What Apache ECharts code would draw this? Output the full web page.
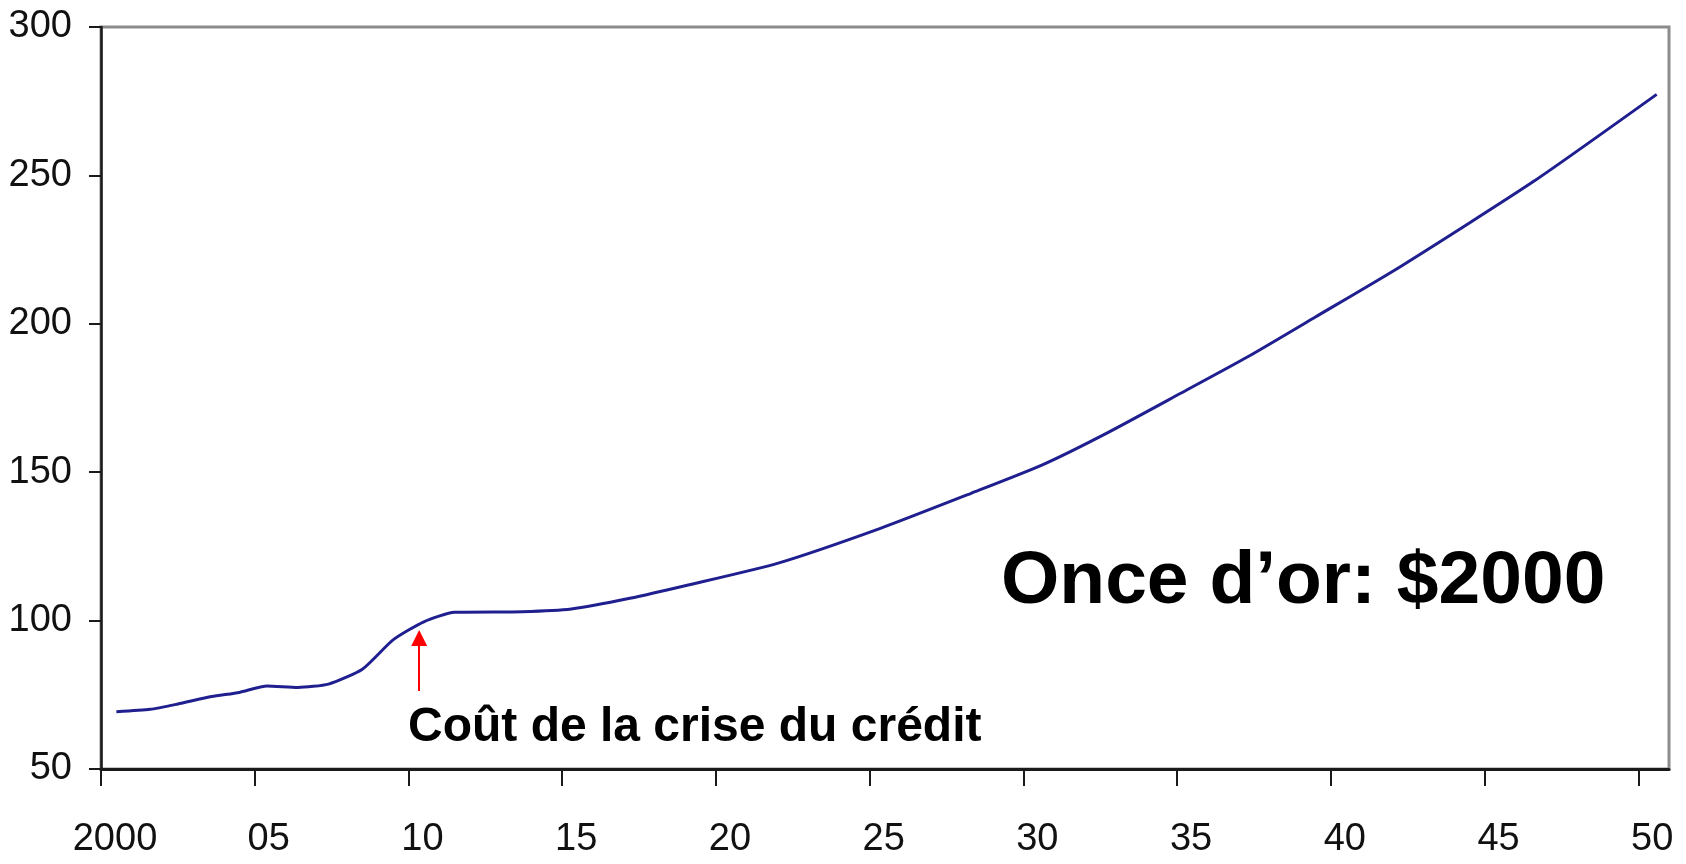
<!DOCTYPE html>
<html>
<head>
<meta charset="utf-8">
<script src="https://cdn.jsdelivr.net/npm/echarts@6/dist/echarts.min.js"></script>
<style>
  html, body { margin: 0; padding: 0; background: #fff; }
  #chart { width: 1686px; height: 864px; }
</style>
</head>
<body>
<div id="chart"></div>
<script>
// années (en fractions) et valeurs
const years = [2000.5, 2001.6, 2002.5, 2003.6, 2004.5, 2005.4, 2006.4, 2007.4, 2008.5, 2009.5,
  2010.5, 2011.5, 2013.7, 2015.3, 2017.2, 2019.1, 2022.0, 2025.35, 2028.3, 2030.6,
  2032.7, 2035.1, 2037.3, 2039.5, 2042.3, 2046.6, 2050.6]
const values = [69.3, 70.1, 71.9, 74.4, 75.8, 78.0, 77.5, 78.6, 83.6, 93.5,
  99.6, 102.8, 103.0, 103.9, 107.5, 112.0, 119.3, 131.1, 142.9, 152.4,
  163.1, 176.5, 188.9, 202.3, 219.5, 248.0, 277.3]

const yTicks = [50, 100, 150, 200, 250, 300]

// flèche rouge : année et valeurs de départ / d'arrivée
const arrowYear = 2010.35
const arrowFrom = 76.3
const arrowTo = 94.1

const noteText = 'Coût de la crise du crédit'
const priceText = 'Once d’or: $2000'

const labelFont = "'Liberation Sans', Arial, sans-serif"
const boldFont = "'Liberation Sans', Arial, Helvetica, sans-serif"

let chart = echarts.init(document.getElementById('chart'))

const option = {
  animation: false,
  backgroundColor: '#fff',
  grid: {
    left: 101,
    right: 17,
    top: 27,
    bottom: 95,
    show: true,
    borderColor: '#8c8c8c',
    borderWidth: 3,
  },
  xAxis: {
    type: 'value',
    min: 2000,
    max: 2051,
    interval: 5,
    splitLine: { show: false },
    axisLine: { show: true, lineStyle: { color: '#1a1a1a', width: 3 } },
    axisTick: { show: true, inside: false, length: 17, lineStyle: { color: '#1a1a1a', width: 2 } },
    axisLabel: {
      showMaxLabel: false,
      margin: 52,
      padding: [0, 0, 0, 28],
      fontSize: 38,
      fontFamily: labelFont,
      color: '#111',
      formatter: (v) => (v === 2000 ? '2000' : String(v % 100).padStart(2, '0')),
    },
  },
  yAxis: {
    type: 'value',
    min: yTicks[0],
    max: yTicks[yTicks.length - 1],
    interval: 50,
    splitLine: { show: false },
    axisLine: { show: true, lineStyle: { color: '#1a1a1a', width: 2.5 } },
    axisTick: { show: true, inside: false, length: 12, lineStyle: { color: '#1a1a1a', width: 2 } },
    axisLabel: {
      margin: 29,
      fontSize: 38,
      fontFamily: labelFont,
      color: '#111',
    },
  },
  series: [
    {
      type: 'line',
      data: years.map((y, i) => [y, values[i]]),
      showSymbol: false,
      smooth: 0.2,
      lineStyle: { color: '#1f1f8f', width: 3 },
      markLine: {
        silent: true,
        symbol: ['none', 'triangle'],
        symbolSize: [16, 16],
        label: { show: false },
        lineStyle: { color: '#ff0000', width: 2, type: 'solid' },
        data: [
          [
            { coord: [arrowYear, arrowFrom] },
            { coord: [arrowYear, arrowTo] },
          ],
        ],
      },
    },
  ],
  graphic: [
    {
      type: 'text',
      x: 408,
      y: 728,
      style: {
        text: noteText,
        font: 'bold 48px ' + boldFont,
        fill: '#000',
        textAlign: 'left',
        textVerticalAlign: 'middle',
      },
    },
    {
      type: 'text',
      x: 1001,
      y: 582,
      style: {
        text: priceText,
        font: 'bold 75px ' + boldFont,
        fill: '#000',
        textAlign: 'left',
        textVerticalAlign: 'middle',
      },
    },
  ],
}

chart.setOption(option)
</script>
</body>
</html>
